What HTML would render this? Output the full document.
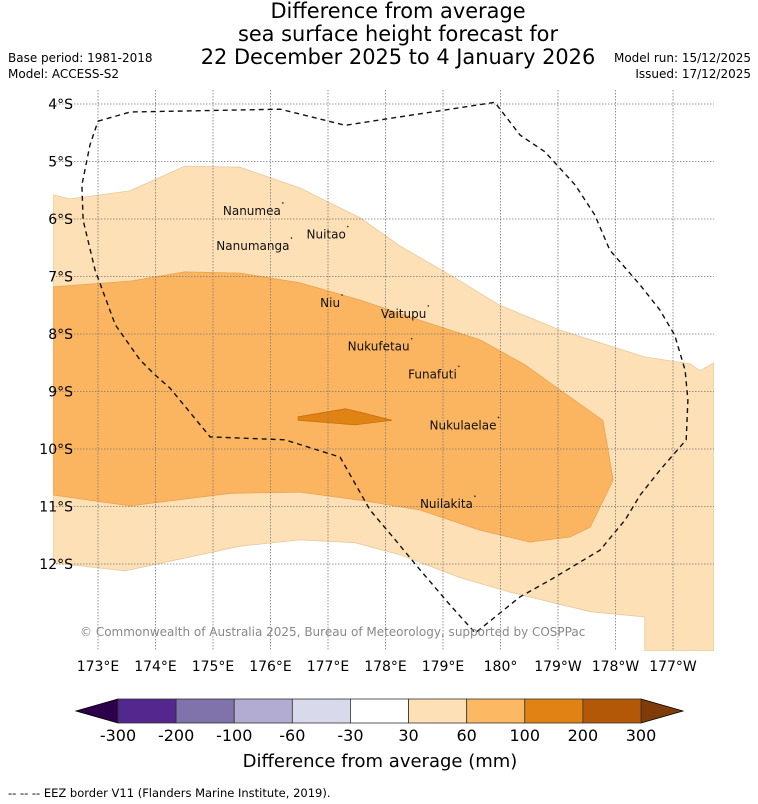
<!DOCTYPE html>
<html><head><meta charset="utf-8"><style>
body{margin:0;background:#fff;}
svg{display:block;font-family:"DejaVu Sans","Liberation Sans",sans-serif;}
</style></head><body>
<svg id="chart" width="758" height="804" viewBox="0 0 758 804" xmlns="http://www.w3.org/2000/svg">
<text x="398" y="18" font-size="20.9" text-anchor="middle">Difference from average</text>
<text x="398" y="41" font-size="20.9" text-anchor="middle">sea surface height forecast for</text>
<text x="398" y="64" font-size="20.9" text-anchor="middle">22 December 2025 to 4 January 2026</text>
<text x="8" y="62" font-size="12">Base period: 1981-2018</text>
<text x="8" y="78" font-size="12">Model: ACCESS-S2</text>
<text x="751" y="62" font-size="12" text-anchor="end">Model run: 15/12/2025</text>
<text x="751" y="78" font-size="12" text-anchor="end">Issued: 17/12/2025</text>
<defs><clipPath id="mapclip"><rect x="53" y="90" width="661" height="561"/></clipPath></defs>
<g id="map" clip-path="url(#mapclip)"></g>
<g id="grid"></g>
<g id="eez"></g>
<g id="labels" font-size="12"></g>
<g id="axes" font-size="14"></g>
<text x="80" y="636" font-size="12" fill="#888">© Commonwealth of Australia 2025, Bureau of Meteorology, supported by COSPPac</text>
<g id="cbar"></g>
<text x="380" y="767" font-size="18" text-anchor="middle">Difference from average (mm)</text>
<text x="8" y="797" font-size="11.5">--  --  -- EEZ border V11 (Flanders Marine Institute, 2019).</text>
</svg>
<script>
const lonTicks=[173,174,175,176,177,178,179,180,181,182,183];
const lonTickLabels=["173°E","174°E","175°E","176°E","177°E","178°E","179°E","180°","179°W","178°W","177°W"];
const latTicks=[-4,-5,-6,-7,-8,-9,-10,-11,-12];
const latTickLabels=["4°S","5°S","6°S","7°S","8°S","9°S","10°S","11°S","12°S"];
const band30to60=[[172.22,-5.58],[172.51,-5.65],[173.56,-5.51],[174.51,-5.08],[175.47,-5.10],[176.51,-5.46],[177.56,-5.98],[178.25,-6.47],[179.12,-6.97],[179.99,-7.50],[181.03,-7.93],[182.51,-8.40],[183.30,-8.52],[183.47,-8.64],[183.71,-8.50],[183.71,-13.51],[182.51,-13.51],[182.51,-12.92],[181.56,-12.83],[180.17,-12.49],[179.30,-12.24],[178.25,-11.84],[177.47,-11.63],[176.51,-11.58],[175.47,-11.69],[173.47,-12.12],[172.22,-11.98]];
const band60to100=[[172.22,-7.18],[173.56,-7.08],[174.51,-6.92],[175.47,-6.94],[176.51,-7.11],[177.56,-7.41],[178.60,-7.76],[179.64,-8.10],[180.43,-8.54],[181.03,-8.97],[181.78,-9.50],[181.96,-10.54],[181.56,-11.36],[181.21,-11.53],[180.51,-11.62],[179.64,-11.41],[178.60,-11.06],[177.56,-10.89],[176.51,-10.75],[175.30,-10.77],[173.56,-10.99],[172.22,-10.80]];
const band100to200=[[176.48,-9.44],[177.30,-9.30],[177.56,-9.36],[178.11,-9.50],[177.47,-9.58],[176.48,-9.50]];
const eezBorder=[[173.00,-4.30],[173.56,-4.14],[176.17,-4.09],[177.30,-4.37],[179.90,-3.97],[180.34,-4.54],[180.77,-4.83],[181.30,-5.41],[181.64,-5.93],[181.90,-6.54],[182.43,-7.15],[182.77,-7.58],[183.03,-8.02],[183.21,-8.63],[183.26,-9.15],[183.23,-9.84],[182.77,-10.37],[182.43,-10.80],[182.17,-11.23],[181.73,-11.76],[180.86,-12.28],[180.34,-12.57],[179.56,-13.20],[179.12,-12.71],[178.60,-12.10],[178.17,-11.58],[177.73,-11.06],[177.21,-10.14],[176.25,-9.84],[174.95,-9.79],[174.25,-8.94],[173.99,-8.71],[173.73,-8.45],[173.30,-7.84],[172.95,-6.89],[172.74,-6.02],[172.72,-5.41],[172.86,-4.71],[173.00,-4.30]];
const islandNames=["Nanumea","Nuitao","Nanumanga","Niu","Vaitupu","Nukufetau","Funafuti","Nukulaelae","Nuilakita"];
const islandLon=[176.18,177.31,176.33,177.21,178.71,178.42,179.24,179.93,179.52];
const islandLat=[-5.93,-6.34,-6.54,-7.53,-7.72,-8.29,-8.77,-9.66,-11.03];
const cbarTicks=["-300","-200","-100","-60","-30","30","60","100","200","300"];
const cbarColors=["#54278f","#8073ac","#b2abd2","#d8daeb","#ffffff","#fee0b6","#fdb863","#e08214","#b35806"];
const NS="http://www.w3.org/2000/svg";
const xS=lon=>98+(lon-173)*57.5;
const yS=lat=>104+(-4-lat)*57.5;
function mk(tag,parent,attrs){const e=document.createElementNS(NS,tag);for(const k in attrs)e.setAttribute(k,attrs[k]);parent.appendChild(e);return e;}
const pts=a=>a.map(p=>xS(p[0]).toFixed(1)+","+yS(p[1]).toFixed(1)).join(" ");
const map=document.getElementById('map');
[[band30to60,"#fde0b6","#e9c99b","band-30-60"],[band60to100,"#fbb560","#e9a350","band-60-100"],[band100to200,"#e08214","#c87010","band-100-200"]].forEach(b=>{
 const p=mk('polygon',map,{points:pts(b[0]),fill:b[1],stroke:b[2],'stroke-width':0.8});
 
 
});
const grid=document.getElementById('grid');const axes=document.getElementById('axes');
lonTicks.forEach((l,i)=>{const x=xS(l);
 const g=mk('line',grid,{x1:x,y1:90,x2:x,y2:651,stroke:'#777','stroke-width':0.8,'stroke-dasharray':'1.5,1.5'});
 
 
 const t=mk('text',axes,{x:x,y:671,'text-anchor':'middle'});t.textContent=lonTickLabels[i];
 
 
});
latTicks.forEach((l,i)=>{const y=yS(l);
 const g=mk('line',grid,{x1:53,y1:y,x2:714,y2:y,stroke:'#777','stroke-width':0.8,'stroke-dasharray':'1.5,1.5'});
 
 
 const t=mk('text',axes,{x:73,y:y+5,'text-anchor':'end'});t.textContent=latTickLabels[i];
 
 
});
const eez=mk('polyline',document.getElementById('eez'),{points:pts(eezBorder),fill:'none',stroke:'#111','stroke-width':1.4,'stroke-dasharray':'5,4'});


const lab=document.getElementById('labels');
islandNames.forEach((n,i)=>{const x=xS(islandLon[i]),y=yS(islandLat[i]);
 const d=mk('circle',lab,{cx:x+2,cy:y-12,r:0.8,fill:'#222'});
 
 
 const t=mk('text',lab,{x:x,y:y,'text-anchor':'end',fill:'#111'});t.textContent=n;
 
 
});
const cb=document.getElementById('cbar');const cx0=118,cw=(641-118)/9,cy=699,ch=24;
const tl=mk('polygon',cb,{points:`${cx0},${cy} 76,${cy+ch/2} ${cx0},${cy+ch}`,fill:'#2d004b',stroke:'#000','stroke-width':0.8});


const tr=mk('polygon',cb,{points:`641,${cy} 683,${cy+ch/2} 641,${cy+ch}`,fill:'#7f3b08',stroke:'#000','stroke-width':0.8});


cbarColors.forEach((c,i)=>{const r=mk('rect',cb,{x:cx0+i*cw,y:cy,width:cw,height:ch,fill:c,stroke:'#333','stroke-width':0.8});
 
 });
cbarTicks.forEach((t,i)=>{const e=mk('text',cb,{x:cx0+i*cw,y:741,'font-size':16,'text-anchor':'middle'});e.textContent=t;
 
 });
</script>
</body></html>
